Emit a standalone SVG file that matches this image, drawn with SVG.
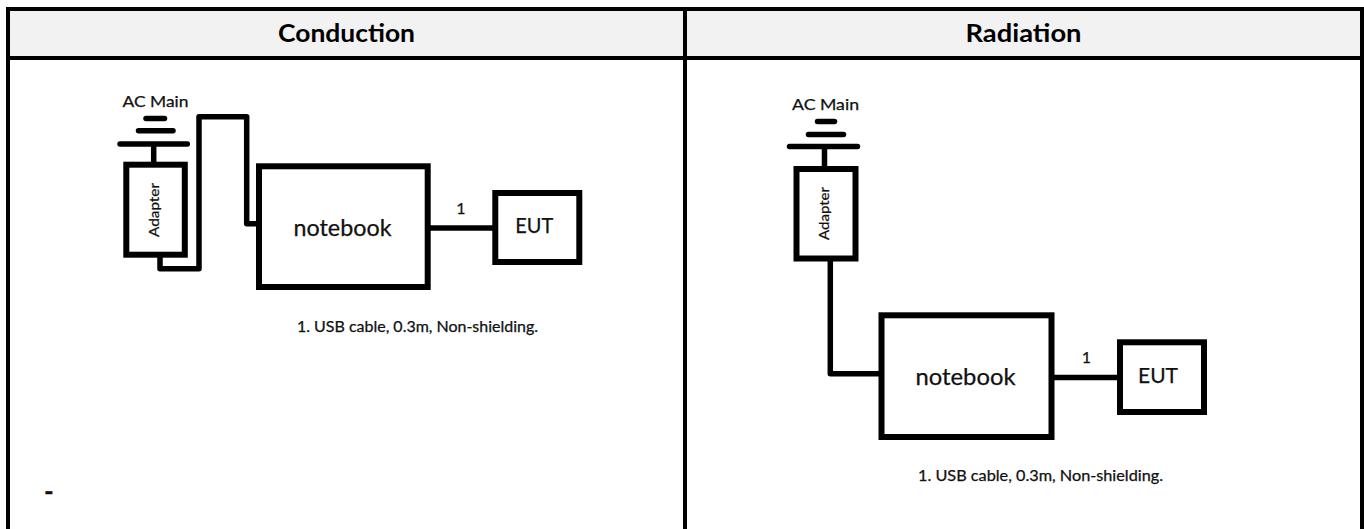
<svg xmlns="http://www.w3.org/2000/svg" width="1364" height="529" viewBox="0 0 1364 529">
  <style>
    .grid { stroke: #000; stroke-width: 4; fill: none; }
    .box { fill: #fff; stroke: #000; stroke-width: 6; }
    .wire { fill: none; stroke: #000; stroke-width: 5.5; stroke-linejoin: round; }
    .gnd { stroke: #000; stroke-width: 5.5; stroke-linecap: round; }
    .hdr { font-family: Lato, "Liberation Sans", sans-serif; font-weight: 700; font-size: 24px; fill: #000; text-anchor: middle; }
    .lbl { font-family: Lato, "Liberation Sans", sans-serif; fill: #111; stroke: #111; stroke-width: 0.25; }
  </style>
  <rect x="0" y="0" width="1364" height="529" fill="#fff"/>
  <g id="table">
    <rect x="8" y="9" width="1354" height="49" fill="#f2f2f2"/>
    <path class="grid" d="M8 529 V9 H1362 V529 M8 58 H1362 M685 9 V529"/>
    <text class="hdr" x="346.5" y="42" textLength="137" lengthAdjust="spacingAndGlyphs">Conduction</text>
    <text class="hdr" x="1023.5" y="42" textLength="116" lengthAdjust="spacingAndGlyphs">Radiation</text>
  </g>

  <g id="connectors">
    <path class="wire" d="M160 257 V268.8 H199 V116.8 H246.7 V223.7 H259"/>
    <line class="wire" x1="430" y1="228" x2="495" y2="228"/>
    <path class="wire" d="M830.3 261 V373.8 H881"/>
    <line class="wire" x1="1052" y1="377.5" x2="1120" y2="377.5"/>
  </g>

  <g id="cond-acmain">
    <text class="lbl" x="122.5" y="106.5" font-size="15" textLength="66" lengthAdjust="spacingAndGlyphs">AC Main</text>
    <line class="gnd" x1="146" y1="118.5" x2="164.5" y2="118.5"/>
    <line class="gnd" x1="138.5" y1="130.7" x2="173" y2="130.7"/>
    <line class="gnd" x1="120" y1="144" x2="187.3" y2="144"/>
    <line class="wire" x1="153.7" y1="144" x2="153.7" y2="164"/>
  </g>
  <g id="cond-adapter">
    <rect class="box" x="126.3" y="164.7" width="58.5" height="90"/>
    <text class="lbl" transform="translate(159,210) rotate(-90)" x="0" y="0" font-size="14" text-anchor="middle" textLength="54" lengthAdjust="spacingAndGlyphs">Adapter</text>
  </g>
  <g id="cond-notebook">
    <rect class="box" x="259" y="166.3" width="168.7" height="120.7"/>
    <text class="lbl" x="342.5" y="235.5" font-size="23" text-anchor="middle" textLength="98" lengthAdjust="spacingAndGlyphs">notebook</text>
  </g>
  <g id="cond-cable-label">
    <text class="lbl" x="461" y="213.5" font-size="16" text-anchor="middle">1</text>
  </g>
  <g id="cond-eut">
    <rect class="box" x="495.3" y="193" width="84" height="69"/>
    <text class="lbl" x="534.2" y="232.7" font-size="22" text-anchor="middle" textLength="38" lengthAdjust="spacingAndGlyphs">EUT</text>
  </g>
  <g id="cond-note">
    <text class="lbl" x="297" y="331.5" font-size="14.5" textLength="241" lengthAdjust="spacingAndGlyphs">1. USB cable, 0.3m, Non-shielding.</text>
    <text class="lbl" x="44" y="501" font-size="26" font-weight="700">-</text>
  </g>

  <g id="rad-acmain">
    <text class="lbl" x="792" y="110" font-size="15" textLength="67" lengthAdjust="spacingAndGlyphs">AC Main</text>
    <line class="gnd" x1="817.5" y1="121.5" x2="834.5" y2="121.5"/>
    <line class="gnd" x1="808.5" y1="134.5" x2="843.5" y2="134.5"/>
    <line class="gnd" x1="789.5" y1="146.5" x2="857.5" y2="146.5"/>
    <line class="wire" x1="824.5" y1="146.5" x2="824.5" y2="168"/>
  </g>
  <g id="rad-adapter">
    <rect class="box" x="796.5" y="169" width="59" height="89.5"/>
    <text class="lbl" transform="translate(829,213.5) rotate(-90)" x="0" y="0" font-size="14" text-anchor="middle" textLength="53" lengthAdjust="spacingAndGlyphs">Adapter</text>
  </g>
  <g id="rad-notebook">
    <rect class="box" x="881.5" y="315.3" width="170" height="121.7"/>
    <text class="lbl" x="965.5" y="384.5" font-size="23" text-anchor="middle" textLength="100" lengthAdjust="spacingAndGlyphs">notebook</text>
  </g>
  <g id="rad-cable-label">
    <text class="lbl" x="1086.3" y="363.3" font-size="16" text-anchor="middle">1</text>
  </g>
  <g id="rad-eut">
    <rect class="box" x="1120" y="342.3" width="84" height="69.7"/>
    <text class="lbl" x="1158" y="382.7" font-size="22" text-anchor="middle" textLength="40" lengthAdjust="spacingAndGlyphs">EUT</text>
  </g>
  <g id="rad-note">
    <text class="lbl" x="918" y="480.5" font-size="14.5" textLength="245" lengthAdjust="spacingAndGlyphs">1. USB cable, 0.3m, Non-shielding.</text>
  </g>
</svg>
